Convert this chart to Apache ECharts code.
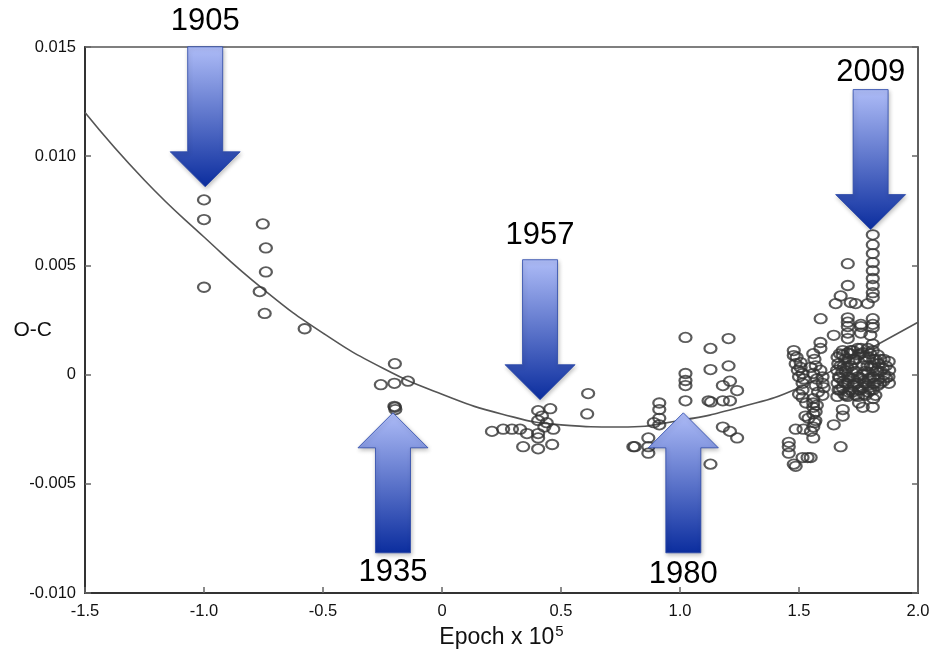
<!DOCTYPE html>
<html>
<head>
<meta charset="utf-8">
<script src="https://cdn.jsdelivr.net/npm/echarts@6/dist/echarts.min.js"></script>
<style>
html,body{margin:0;padding:0;background:#fff;}
#chart{width:930px;height:651px;}
</style>
</head>
<body>
<div id="chart"></div>
<script>
// ---- Data (epoch in units of 10^5, O-C) ----
const xTickLabels = ['-1.5','-1.0','-0.5','0','0.5','1.0','1.5','2.0'];
const yTickLabels = ['-0.010','-0.005','0','0.005','0.010','0.015'];

// fitted curve
const curveEpoch = [-1.5,-1.25,-1.0,-0.75,-0.5,-0.25,0,0.25,0.5,0.75,1.0,1.25,1.5,1.75,2.0];
const curveOC    = [0.0120,0.0089,0.0063,0.0039,0.0019,0.0003,-0.0009,-0.0018,-0.0023,-0.0024,-0.0021,-0.0015,-0.0006,0.0009,0.0024];

const obs1905 = [[-1.0,0.0080],[-1.0,0.0071],[-1.0,0.0040],[-0.753,0.0069],[-0.74,0.0058],[-0.74,0.0047],[-0.766,0.0038],[-0.745,0.0028],[-0.577,0.0021]];
const obs1935 = [[-0.198,0.0005],[-0.257,-0.00046],[-0.20,-0.0004],[-0.143,-0.0003],[-0.198,-0.0015],[-0.196,-0.0016],[-0.200,-0.00145]];
const obs1957 = [[0.21,-0.0026],[0.257,-0.0025],[0.294,-0.0025],[0.328,-0.0025],[0.357,-0.0027],[0.404,-0.00165],[0.455,-0.00156],[0.404,-0.0021],[0.44,-0.0022],[0.468,-0.0025],[0.404,-0.0027],[0.404,-0.0029],[0.463,-0.0032],[0.341,-0.0033],[0.404,-0.0034],[0.614,-0.00087],[0.61,-0.0018],[0.804,-0.0033],[0.42,-0.0019],[0.43,-0.0024]];
const obs1980 = [[1.023,0.0017],[1.023,0.00005],[1.023,-0.00027],[1.023,-0.0005],[1.023,-0.0012],[1.128,0.0012],[1.128,0.00023],[1.204,0.00165],[1.204,0.0004],[1.18,-0.0005],[1.21,-0.0003],[1.24,-0.00073],[1.18,-0.0012],[1.21,-0.0012],[1.18,-0.0024],[1.21,-0.0026],[1.24,-0.0029],[1.128,-0.0041],[0.913,-0.0013],[0.913,-0.0016],[0.913,-0.0020],[0.913,-0.0023],[0.89,-0.0022],[0.81,-0.0033],[0.867,-0.0029],[0.867,-0.0033],[0.867,-0.0036],[1.12,-0.0012],[1.13,-0.00125]];
const obs2009 = [[1.81,0.0064],[1.81,0.00595],[1.81,0.00554],[1.81,0.00513],[1.81,0.00476],[1.81,0.0044],[1.81,0.00408],[1.81,0.00375],[1.81,0.00353],[1.81,0.00256],[1.81,0.00215],[1.81,0.0023],[1.81,0.0014],
[1.705,0.00508],[1.705,0.00408],[1.675,0.0036],[1.654,0.00325],[1.717,0.0033],[1.738,0.00325],[1.789,0.00325],[1.591,0.00256],[1.705,0.0026],[1.705,0.0022],[1.76,0.0022],[1.705,0.0024],[1.76,0.0023],[1.646,0.0018],[1.705,0.0019],[1.705,0.00165],[1.76,0.0019],[1.80,0.0018],[1.59,0.00147],[1.59,0.0012],[1.56,0.00096],[1.684,0.0011],[1.717,0.0011],[1.76,0.0012],
[1.478,0.0011],[1.478,0.00087],[1.507,0.00055],[1.507,0.00033],[1.515,0.00005],[1.515,-0.0004],[1.515,-0.0007],[1.515,-0.00105],[1.486,0.0005],[1.549,0.00033],[1.56,0.00005],[1.59,0.0002],[1.599,-0.0001],[1.599,-0.0004],[1.604,-0.0006],[1.599,-0.00095],[1.56,-0.0011],[1.56,-0.0013],[1.56,-0.0015],[1.56,-0.0018],[1.54,-0.0020],[1.527,-0.0019],[1.569,-0.0021],[1.56,-0.0024],[1.56,-0.0029],[1.519,-0.0025],[1.486,-0.0025],[1.457,-0.0031],[1.457,-0.0033],[1.457,-0.0036],[1.515,-0.0038],[1.549,-0.0038],[1.486,-0.0042],[1.478,-0.0041],[1.536,-0.0038],[1.646,-0.0023],[1.675,-0.0033],
[1.565,0.0007],[1.57,0.0004],[1.575,-0.0002],[1.57,-0.0005],[1.58,-0.0008],[1.575,-0.0014],[1.57,-0.0017],[1.565,-0.0022],[1.55,-0.0026],
[1.49,0.0008],[1.495,0.0002],[1.50,-0.0001],[1.52,-0.0002],[1.50,-0.0009],[1.53,-0.0013],
[1.662,0.0008],[1.665,0.0005],[1.660,0.0002],[1.668,-0.0001],[1.662,-0.0004],[1.666,-0.0007],[1.661,-0.0010],
[1.684,0.0009],[1.688,0.0004],[1.682,0.0001],[1.686,-0.0003],[1.684,-0.0006],[1.690,-0.0009],[1.684,-0.0016],[1.684,-0.0019],
[1.705,0.0010],[1.708,0.0006],[1.703,0.0003],[1.707,-0.0001],[1.705,-0.0004],[1.709,-0.0008],[1.704,-0.0010],
[1.726,0.0011],[1.729,0.0007],[1.724,0.0001],[1.727,-0.0002],[1.730,-0.0005],[1.725,-0.0008],
[1.747,0.0012],[1.750,0.0009],[1.748,-0.0001],[1.745,-0.0004],[1.752,-0.0007],[1.748,-0.0010],[1.752,-0.0013],
[1.768,0.0010],[1.770,0.0004],[1.766,0.0000],[1.771,-0.0003],[1.767,-0.0006],[1.772,-0.0009],[1.768,-0.0015],
[1.789,0.0012],[1.792,0.0008],[1.788,0.0004],[1.790,0.0001],[1.793,-0.0002],[1.789,-0.0005],[1.791,-0.0008],
[1.810,0.0011],[1.812,0.0007],[1.808,0.0003],[1.811,-0.0001],[1.813,-0.0004],[1.810,-0.0007],[1.812,-0.0011],[1.810,-0.0015],
[1.831,0.0009],[1.834,0.0005],[1.829,0.0002],[1.833,-0.0002],[1.830,-0.0005],
[1.856,0.0007],[1.852,0.0003],[1.858,0.0000],[1.854,-0.0003],
[1.877,0.0006],[1.879,0.0002],[1.876,-0.0001],[1.878,-0.0004],
[1.672,0.00095],[1.674,0.0004],[1.671,-0.00015],[1.673,-0.0007],
[1.694,0.0007],[1.696,0.00015],[1.693,-0.0004],[1.697,-0.00095],
[1.715,0.00095],[1.717,0.0004],[1.714,-0.00015],[1.716,-0.0007],
[1.736,0.0007],[1.738,0.00015],[1.735,-0.0004],[1.739,-0.00095],
[1.757,0.00095],[1.758,-0.00015],[1.756,-0.0007],
[1.778,0.0007],[1.779,0.00015],[1.777,-0.0004],[1.780,-0.00095],
[1.799,0.00095],[1.801,0.0004],[1.798,-0.00015],[1.800,-0.0007],
[1.820,0.0007],[1.822,0.00015],[1.819,-0.0004],[1.821,-0.00095],
[1.842,0.0007],[1.843,0.00015],[1.841,-0.0004],
[1.865,0.0004],[1.866,-0.00015]];

// arrow annotations
const arrowYears = ['1905','1935','1957','1980','2009'];
const arrowEpoch = [-0.995,-0.206,0.412,1.014,1.801];
const arrowTipOC = [0.0086,-0.00175,-0.00115,-0.00175,0.00664];
const arrowDir   = ['down','up','down','up','down'];

// ---- Chart ----
const chart = echarts.init(document.getElementById('chart'));
const FONT = '"Liberation Sans", Arial, Helvetica, sans-serif';
const allObs = [].concat(obs1905, obs1935, obs1957, obs1980, obs2009);
const curveData = curveEpoch.map((x,i)=>[x, curveOC[i]]);

const option = {
  animation: false,
  backgroundColor: '#fff',
  grid: {left: 85, right: 12, top: 47, bottom: 58, show: true, borderColor: '#555', borderWidth: 1.5,
         backgroundColor: 'transparent', containLabel: false, outerBoundsMode: 'none'},
  xAxis: {
    type: 'value', min: -1.5, max: 2.0, interval: 0.5,
    axisLine: {show: true, onZero: false, lineStyle: {color: '#333', width: 2}},
    axisTick: {show: true, inside: true, length: 6, lineStyle: {color: '#666', width: 1.5}},
    splitLine: {show: false},
    axisLabel: {color: '#111', fontSize: 16.5, fontFamily: FONT, margin: 10,
      formatter: v => xTickLabels[Math.round((v + 1.5) / 0.5)]},
    name: '{b|Epoch x 10}{s|5}', nameLocation: 'middle', nameGap: 31, nameMoveOverlap: false,
    nameTextStyle: {color: '#111', fontFamily: FONT,
      rich: {b: {fontSize: 23, fontFamily: FONT, color: '#111', lineHeight: 28},
             s: {fontSize: 15, fontFamily: FONT, color: '#111', verticalAlign: 'top', lineHeight: 28, padding: [0,0,10,1]}}}
  },
  yAxis: [{
    type: 'value', min: -0.010, max: 0.015, interval: 0.005,
    axisLine: {show: true, onZero: false, lineStyle: {color: '#333', width: 2}},
    axisTick: {show: true, inside: true, length: 6, lineStyle: {color: '#666', width: 1.5}},
    splitLine: {show: false},
    axisLabel: {color: '#111', fontSize: 16.5, fontFamily: FONT, margin: 9,
      formatter: v => yTickLabels[Math.round((v + 0.010) / 0.005)]},
    name: 'O-C', nameLocation: 'middle', nameRotate: 0, nameGap: 33, nameMoveOverlap: false,
    nameTextStyle: {color: '#111', fontSize: 21, fontFamily: FONT, verticalAlign: 'top', lineHeight: 20}
  },{
    type: 'value', min: -0.010, max: 0.015, interval: 0.005, position: 'right',
    axisLine: {show: true, onZero: false, lineStyle: {color: '#555', width: 1.5}},
    axisTick: {show: true, inside: true, length: 6, lineStyle: {color: '#666', width: 1.5}},
    splitLine: {show: false},
    axisLabel: {show: false}
  }],
  series: [
    {type: 'line', data: curveData, smooth: true, showSymbol: false, symbol: 'none',
     lineStyle: {color: '#555', width: 1.6}, z: 2, silent: true},
    {type: 'scatter', data: allObs, symbol: 'circle', symbolSize: [12, 9.5],
     itemStyle: {color: 'rgba(255,255,255,0)', borderColor: '#333', borderWidth: 2}, z: 3}
  ]
};
chart.setOption(option);

// arrows anchored at data coordinates
const graphics = [];
const L = 140, HH = 35, HW = 35, SW = 17.5;
const labelGap = [25, 20, 24, 22, 17];
arrowYears.forEach((yr, i) => {
  const p = chart.convertToPixel({xAxisIndex: 0, yAxisIndex: 0}, [arrowEpoch[i], arrowTipOC[i]]);
  const tx = p[0], ty = p[1];
  const s = arrowDir[i] === 'down' ? -1 : 1; // direction from tip to tail
  const pts = [
    [tx, ty],
    [tx + HW, ty + s*HH],
    [tx + SW, ty + s*HH],
    [tx + SW, ty + s*L],
    [tx - SW, ty + s*L],
    [tx - SW, ty + s*HH],
    [tx - HW, ty + s*HH]
  ];
  graphics.push({
    type: 'polygon', z: 100,
    shape: {points: pts},
    style: {
      fill: new echarts.graphic.LinearGradient(0, 0, 0, 1, [
        {offset: 0, color: '#aebcf7'},
        {offset: 1, color: '#0b2d9e'}
      ]),
      stroke: '#2846a8', lineWidth: 0.8,
      shadowBlur: 4, shadowColor: 'rgba(0,0,0,0.25)', shadowOffsetX: 1, shadowOffsetY: 2
    }
  });
  const labelY = s < 0 ? ty - L - labelGap[i] : ty + L + labelGap[i];
  graphics.push({
    type: 'text', z: 101,
    x: tx, y: labelY,
    style: {text: yr, fill: '#000', font: '31px ' + FONT, textAlign: 'center', textVerticalAlign: 'middle'}
  });
});
chart.setOption({graphic: graphics});
</script>
</body>
</html>
